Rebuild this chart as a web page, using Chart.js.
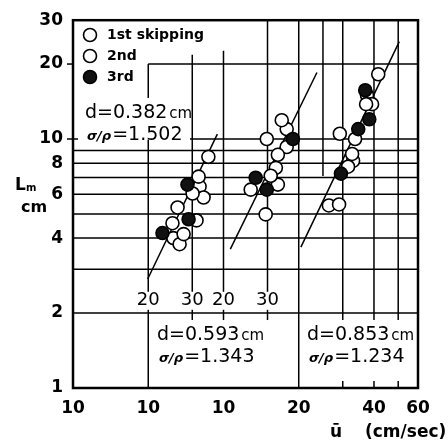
<!DOCTYPE html>
<html>
<head>
<meta charset="utf-8">
<script src="https://cdn.jsdelivr.net/npm/chart.js@4.4.1/dist/chart.umd.min.js"></script>
<style>
  html, body { margin: 0; padding: 0; background: #fff; }
</style>
</head>
<body>
<canvas id="chart" width="448" height="443"></canvas>
<script>
// data: [u (cm/sec), Lm (cm)]
const g1First  = [[34.8, 8.48], [31.8, 7.06], [30.1, 6.04], [26.2, 5.31], [31.2, 4.71], [27.7, 4.15]];
const g1Second = [[32.1, 6.44], [33.3, 5.82], [25.0, 4.59], [25.2, 4.0], [26.7, 3.78]];
const g1Third  = [[28.7, 6.56], [29.0, 4.76], [22.8, 4.19]];
const g2First  = [[34.2, 11.9], [29.8, 10.0], [33.0, 8.64], [30.9, 7.12], [25.7, 6.26]];
const g2Second = [[35.8, 10.96], [35.8, 9.29], [32.4, 7.66], [33.0, 6.56], [29.5, 4.98]];
const g2Third  = [[37.9, 10.0], [26.9, 6.99], [29.8, 6.26]];
const g3First  = [[41.6, 18.2], [37.2, 13.8], [29.2, 10.5], [32.7, 8.71], [31.5, 7.74], [29.0, 5.46]];
const g3Second = [[37.5, 15.0], [39.3, 13.8], [33.6, 10.0], [33.0, 8.17], [26.4, 5.41]];
const g3Third  = [[36.9, 15.7], [38.3, 12.0], [34.6, 10.96], [29.5, 7.26]];
// fitted lines (end points)
const fit1 = [[19.9, 2.74], [37.8, 10.46]];
const fit2 = [[21.3, 3.61], [47.3, 18.5]];
const fit3 = [[20.4, 3.68], [50.5, 24.6]];
// each group is shifted on the shared axis (u divided by this)
const groupShift = [4, 2, 1];
const groupLabels = [['d=0.382', '1.502'], ['d=0.593', '1.343'], ['d=0.853', '1.234']];

// axes
const yTicks = [1, 2, 4, 6, 8, 10, 20, 30];
const xTickPos = [2.5, 5, 10, 20, 40, 60];
const xTickText = ['10', '10', '10', '20', '40', '60'];
const innerTickPos = [5, 7.5, 10, 15];
const innerTickText = ['20', '30', '20', '30'];

const FONT = '"DejaVu Sans", sans-serif';

function pts(arr, g) {
  return arr.map(p => ({ x: p[0] / groupShift[g], y: p[1] }));
}

function pointSet(arr, g, filled) {
  return {
    data: pts(arr, g),
    showLine: false,
    pointRadius: 6.5,
    pointBorderWidth: 1.6,
    pointBorderColor: '#000',
    pointBackgroundColor: filled ? '#111' : '#fff',
    order: filled ? 1 : 2
  };
}

function fitSet(arr, g) {
  return {
    data: pts(arr, g),
    showLine: true,
    borderColor: '#000',
    borderWidth: 1.5,
    pointRadius: 0,
    order: 5
  };
}

// grid, frame and text drawn through the scales
const paperPlugin = {
  id: 'paper',
  beforeDatasetsDraw(chart) {
    const ctx = chart.ctx;
    const xs = chart.scales.x, ys = chart.scales.y;
    const X = v => xs.getPixelForValue(v);
    const Y = v => ys.getPixelForValue(v);
    ctx.save();
    ctx.strokeStyle = '#000';
    ctx.lineWidth = 1.5;
    ctx.lineCap = 'butt';
    const seg = (x1, y1, x2, y2) => {
      ctx.beginPath(); ctx.moveTo(x1, y1); ctx.lineTo(x2, y2); ctx.stroke();
    };
    // horizontal lines
    [2, 3, 4, 5, 6, 7, 8, 9, 10].forEach(v => seg(X(2.5), Y(v), X(60), Y(v)));
    seg(X(5), Y(20), X(60), Y(20));
    // vertical lines [value, from, to]
    [[5, 1, 20], [7.5, 2, 21.8], [10, 2, 22.6], [15, 2, 30], [20, 1, 30],
     [25, 7.1, 30], [30, 2, 30], [40, 2, 30], [50, 2, 30]]
      .forEach(l => seg(X(l[0]), Y(l[1]), X(l[0]), Y(l[2])));
    // short ticks in the lower boxes
    [7.5, 10, 15, 30, 40, 50].forEach(v => seg(X(v), Y(2), X(v), Y(2) + 7));
    [30, 40, 50].forEach(v => seg(X(v), Y(1), X(v), Y(1) - 7));
    // left dashes
    [10, 20].forEach(v => seg(X(2.5) - 6, Y(v), X(2.5), Y(v)));

    // frame
    ctx.lineWidth = 2.5;
    const a = chart.chartArea;
    ctx.strokeRect(a.left, a.top, a.right - a.left, a.bottom - a.top);

    // labels inside the plot: 20 30 20 30
    ctx.font = '18px ' + FONT;
    ctx.textAlign = 'center';
    ctx.textBaseline = 'middle';
    innerTickPos.forEach((v, i) => {
      const w = ctx.measureText(innerTickText[i]).width;
      ctx.fillStyle = '#fff';
      ctx.fillRect(X(v) - w / 2 - 2, Y(2.24) - 9, w + 4, 18);
      ctx.fillStyle = '#000';
      ctx.fillText(innerTickText[i], X(v), Y(2.24));
    });

    // group captions d / sigma/rho
    const caption = (x, yTop, lbl) => {
      ctx.textAlign = 'left';
      ctx.textBaseline = 'alphabetic';
      ctx.font = '19px ' + FONT;
      ctx.fillStyle = '#000';
      ctx.fillText(lbl[0], x, yTop);
      let w = ctx.measureText(lbl[0]).width;
      ctx.font = '15px ' + FONT;
      ctx.fillText('cm', x + w + 2, yTop);
      ctx.font = 'italic bold 13px ' + FONT;
      ctx.fillText('σ/ρ', x + 2, yTop + 22);
      w = ctx.measureText('σ/ρ').width;
      ctx.font = '19px ' + FONT;
      ctx.fillText('=' + lbl[1], x + 2 + w + 1, yTop + 22);
    };
    ctx.fillStyle = '#fff';
    ctx.fillRect(X(2.5) + 5, 98, 112, 42);
    caption(85, 118, groupLabels[0]);
    caption(157, 340, groupLabels[1]);
    caption(307, 340, groupLabels[2]);

    // legend
    const names = ['1st skipping', '2nd', '3rd'];
    names.forEach((n, i) => {
      const cy = 35 + i * 21;
      ctx.beginPath();
      ctx.arc(90, cy, 6.5, 0, Math.PI * 2);
      ctx.fillStyle = i === 2 ? '#111' : '#fff';
      ctx.fill();
      ctx.lineWidth = 1.6;
      ctx.stroke();
      ctx.fillStyle = '#000';
      ctx.font = 'bold 14px ' + FONT;
      ctx.textAlign = 'left';
      ctx.textBaseline = 'middle';
      ctx.fillText(n, 107, cy);
    });

    // axis titles
    ctx.font = 'bold 17px ' + FONT;
    ctx.textBaseline = 'alphabetic';
    ctx.fillText('L', 15, 190);
    ctx.font = 'bold 10px ' + FONT;
    ctx.fillText('m', 26, 191);
    ctx.font = 'bold 16px ' + FONT;
    ctx.fillText('cm', 21, 212);
    ctx.font = 'bold 17px ' + FONT;
    ctx.fillText('ū', 330, 437);
    ctx.fillText('(cm/sec)', 365, 437);
    ctx.restore();
  }
};

const datasets = [
  fitSet(fit1, 0), fitSet(fit2, 1), fitSet(fit3, 2),
  pointSet(g1First, 0, false), pointSet(g1Second, 0, false), pointSet(g1Third, 0, true),
  pointSet(g2First, 1, false), pointSet(g2Second, 1, false), pointSet(g2Third, 1, true),
  pointSet(g3First, 2, false), pointSet(g3Second, 2, false), pointSet(g3Third, 2, true)
];

new Chart(document.getElementById('chart'), {
  type: 'scatter',
  data: { datasets: datasets },
  options: {
    responsive: false,
    animation: false,
    devicePixelRatio: 1,
    layout: { padding: { left: 0, top: 17, right: 30, bottom: 0 } },
    plugins: { legend: { display: false }, tooltip: { enabled: false } },
    scales: {
      x: {
        type: 'logarithmic',
        min: 2.5, max: 60,
        grid: { display: false, drawTicks: false },
        border: { display: false },
        afterBuildTicks: s => { s.ticks = xTickPos.map(v => ({ value: v })); },
        afterFit: s => { s.height = 55; },
        ticks: {
          color: '#000', padding: 10, maxRotation: 0, autoSkip: false,
          font: { family: FONT, size: 17, weight: 'bold' },
          callback: (v, i) => xTickText[i]
        }
      },
      y: {
        type: 'logarithmic',
        min: 1, max: 30,
        grid: { display: false, drawTicks: false },
        border: { display: false },
        afterBuildTicks: s => { s.ticks = yTicks.map(v => ({ value: v })); },
        afterFit: s => { s.width = 73; },
        ticks: {
          color: '#000', padding: 10, autoSkip: false,
          font: { family: FONT, size: 17, weight: 'bold' },
          callback: v => String(v)
        }
      }
    }
  },
  plugins: [paperPlugin]
});
</script>
</body>
</html>
